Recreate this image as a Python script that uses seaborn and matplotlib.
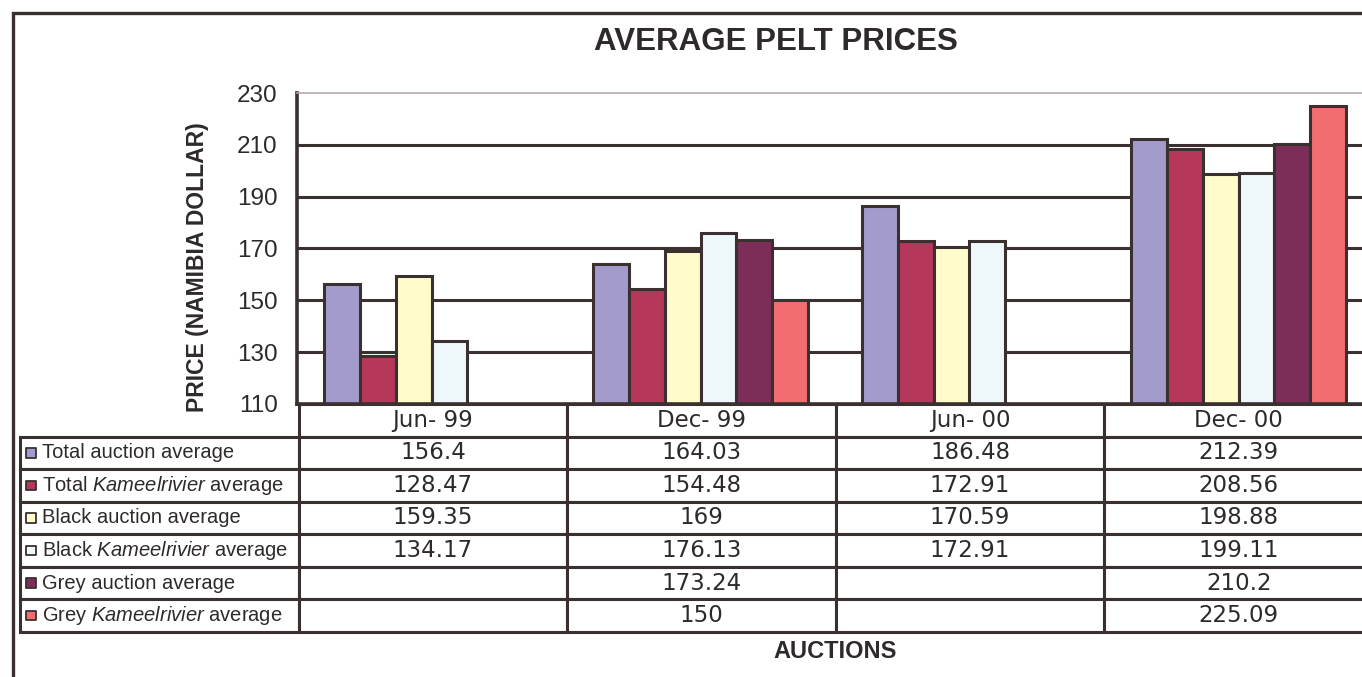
import numpy as np
import pandas as pd
import matplotlib
matplotlib.use("Agg")
import matplotlib.pyplot as plt
from matplotlib.patches import Rectangle
import seaborn as sns

# Data
auctions = ["Jun- 99", "Dec- 99", "Jun- 00", "Dec- 00"]
series = ["Total auction average", "Total Kameelrivier average",
          "Black auction average", "Black Kameelrivier average",
          "Grey auction average", "Grey Kameelrivier average"]
row_labels = ["Total auction average", r"Total $\mathit{Kameelrivier}$ average",
              "Black auction average", r"Black $\mathit{Kameelrivier}$ average",
              "Grey auction average", r"Grey $\mathit{Kameelrivier}$ average"]
total_auction = [156.4, 164.03, 186.48, 212.39]
total_kameel = [128.47, 154.48, 172.91, 208.56]
black_auction = [159.35, 169, 170.59, 198.88]
black_kameel = [134.17, 176.13, 172.91, 199.11]
grey_auction = [np.nan, 173.24, np.nan, 210.2]
grey_kameel = [np.nan, 150, np.nan, 225.09]
yticks = [110, 130, 150, 170, 190, 210, 230]

colors = ["#a39bcb", "#b5375a", "#fffbcb", "#eef8fa", "#7c2d58", "#f26d70"]
dark = "#3a3030"

values = [total_auction, total_kameel, black_auction, black_kameel, grey_auction, grey_kameel]
df = pd.DataFrame({
    "auction": auctions * len(series),
    "series": [s for s in series for _ in auctions],
    "price": [v for vals in values for v in vals],
})

sns.set_style("white")
plt.rcParams["font.family"] = ["Liberation Sans", "DejaVu Sans"]
plt.rcParams["mathtext.fontset"] = "custom"
plt.rcParams["mathtext.rm"] = "Liberation Sans"
plt.rcParams["mathtext.it"] = "Liberation Sans:italic"

W, H = 1362, 677
fig = plt.figure(figsize=(W / 100, H / 100), dpi=100)
fig.patch.set_facecolor("white")
ax = fig.add_axes([297 / W, (H - 404) / H, 1076 / W, 311 / H])

for y in yticks[1:-1]:
    ax.axhline(y, color=dark, lw=2.2, zorder=0)

sns.barplot(data=df, x="auction", y="price", hue="series", order=auctions,
            hue_order=series, palette=colors, width=0.8, saturation=1,
            edgecolor=dark, linewidth=2.2, legend=False, ax=ax, zorder=2)

ax.set_xlim(-0.5, len(auctions) - 0.5)
ax.set_ylim(110, 230)
ax.set_yticks(yticks)
ax.tick_params(axis="y", direction="out", length=9, width=2.2, color=dark,
               labelsize=17.5, labelcolor="#2e2a2a", pad=5)
ax.tick_params(axis="x", bottom=False, labelbottom=False)
ax.set_xlabel("")
ax.set_ylabel("")
ax.spines["right"].set_visible(False)
ax.spines["top"].set_color("#b8a8b0")
ax.spines["top"].set_linewidth(1.2)
ax.spines["left"].set_color(dark)
ax.spines["left"].set_linewidth(2.6)
ax.spines["bottom"].set_color(dark)
ax.spines["bottom"].set_linewidth(2.6)

# data table under the plot
cell_text = []
for lab, vals in zip(row_labels, values):
    cell_text.append([lab] + ["" if np.isnan(v) else f"{v:g}" for v in vals])
tbl = ax.table(cellText=cell_text, colLabels=[""] + auctions,
               colWidths=[278, 268, 268, 268, 268],
               bbox=[-0.2574, -0.7331, 1.2574, 0.7331], cellLoc="center")
tbl.auto_set_font_size(False)
for (r, c), cell in tbl.get_celld().items():
    cell.set_edgecolor(dark)
    cell.set_linewidth(2.2)
    cell.get_text().set_color("#2e2a2a")
    if c == 0:
        cell.get_text().set_ha("left")
        cell._loc = "left"
        cell.PAD = 0.08
        cell.get_text().set_fontsize(14.5)
        if r == 0:
            cell.set_visible(False)
    else:
        cell.get_text().set_fontfamily("DejaVu Sans")
        cell.get_text().set_fontsize(16.5)

# legend keys inside the label column
row_h = 228 / 7
key_y = [-(row_h * (i + 1.5)) / 311 for i in range(len(series))]
ax.scatter([(31 - 297) / 1076] * len(series), key_y, s=45, marker="s",
           c=colors, edgecolors=dark, linewidths=1.3, transform=ax.transAxes,
           clip_on=False, zorder=5)

fig.text(776 / W, 1 - 42 / H, "AVERAGE PELT PRICES", ha="center", va="center",
         fontsize=22.5, fontweight="bold", color="#2e2a2a")
fig.text(197 / W, 1 - 267 / H, "PRICE (NAMIBIA DOLLAR)", ha="center", va="center",
         rotation=90, fontsize=16.5, fontweight="bold", color="#2e2a2a")
fig.text(835 / W, 1 - 652 / H, "AUCTIONS", ha="center", va="center",
         fontsize=17, fontweight="bold", color="#2e2a2a")

# outer frame, runs off the right and bottom like the scan
fig.patches.append(Rectangle((13 / W, -0.05), 1.1, (H - 13) / H + 0.05,
                             transform=fig.transFigure, fill=False,
                             edgecolor=dark, lw=2.4))

fig.savefig("out.png", dpi=100)
